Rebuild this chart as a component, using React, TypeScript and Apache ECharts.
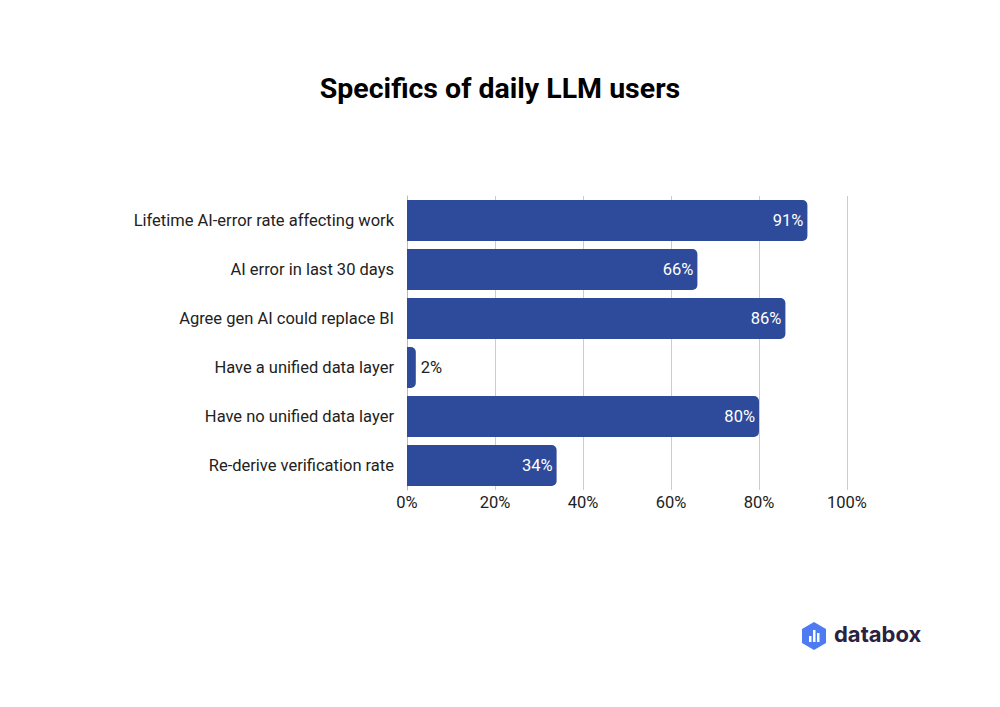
import React, { useEffect, useRef } from "react";
import * as echarts from "echarts";

const categories = [
  "Lifetime AI-error rate affecting work",
  "AI error in last 30 days",
  "Agree gen AI could replace BI",
  "Have a unified data layer",
  "Have no unified data layer",
  "Re-derive verification rate",
];
const values = [91, 66, 86, 2, 80, 34];
const xTicks = [0, 20, 40, 60, 80, 100];

const hexPath = "M12 0 L24 7 L24 21 L12 28 L0 21 L0 7 Z";
echarts.graphic.registerShape("hexlogo", echarts.graphic.extendPath(hexPath, {}) as any);

export default function App() {
  const ref = useRef<HTMLDivElement>(null);
  useEffect(() => {
    if (!ref.current) return;
    const chart = echarts.init(ref.current, null, { renderer: "svg" });
    const cats = [...categories].reverse();
    const vals = [...values].reverse();
    chart.setOption({
      animation: false,
      backgroundColor: "#ffffff",
      title: {
        text: "Specifics of daily LLM users",
        left: "center",
        top: 69,
        textStyle: { fontFamily: "Roboto", fontWeight: "bold", fontSize: 28.5, color: "#000000" },
      },
      grid: { left: 407, top: 196, width: 440, height: 294, containLabel: false },
      xAxis: {
        type: "value",
        min: 0,
        max: 100,
        interval: 20,
        axisLabel: {
          formatter: (v: number) => (xTicks.includes(v) ? v + "%" : ""),
          fontFamily: "Roboto",
          fontSize: 16.5,
          color: "#222222",
          margin: 4,
        },
        axisLine: { show: false },
        axisTick: { show: false },
        splitLine: { lineStyle: { color: "#cccccc", width: 1 } },
      },
      yAxis: {
        type: "category",
        data: cats,
        axisLine: { show: true, lineStyle: { color: "#bbbbbb" } },
        axisTick: { show: false },
        axisLabel: { fontFamily: "Roboto", fontSize: 16.5, color: "#222222", margin: 13 },
      },
      series: [
        {
          type: "bar",
          data: vals.map((v) => ({
            value: v,
            label:
              v < 10
                ? { position: "right", color: "#222222", distance: 5 }
                : { position: "insideRight", color: "#ffffff", distance: 4 },
          })),
          barCategoryGap: "16%",
          itemStyle: { color: "#2E4A9A", borderRadius: [0, 5, 5, 0] },
          label: {
            show: true,
            formatter: "{c}%",
            fontFamily: "Roboto",
            fontSize: 16.5,
          },
        },
      ],
      graphic: [
        {
          type: "group",
          left: 802,
          top: 622,
          children: [
            {
              type: "hexlogo",
              x: 0,
              y: 0,
              scaleX: 1,
              scaleY: 1,
              style: { fill: "#4F7BF2" },
            },
            { type: "rect", shape: { x: 7, y: 14, width: 2.5, height: 6 }, style: { fill: "#fff" } },
            { type: "rect", shape: { x: 11, y: 8, width: 2.5, height: 12 }, style: { fill: "#fff" } },
            { type: "rect", shape: { x: 15, y: 11, width: 2.5, height: 9 }, style: { fill: "#fff" } },
          ],
        },
        {
          type: "text",
          left: 834,
          top: 623,
          style: {
            text: "databox",
            fontFamily: "Inter",
            fontWeight: "bold",
            fontSize: 22,
            fill: "#2A2240",
          },
        },
      ],
    });
    return () => chart.dispose();
  }, []);
  return <div ref={ref} style={{ width: 1000, height: 707, margin: -8 }} />;
}
